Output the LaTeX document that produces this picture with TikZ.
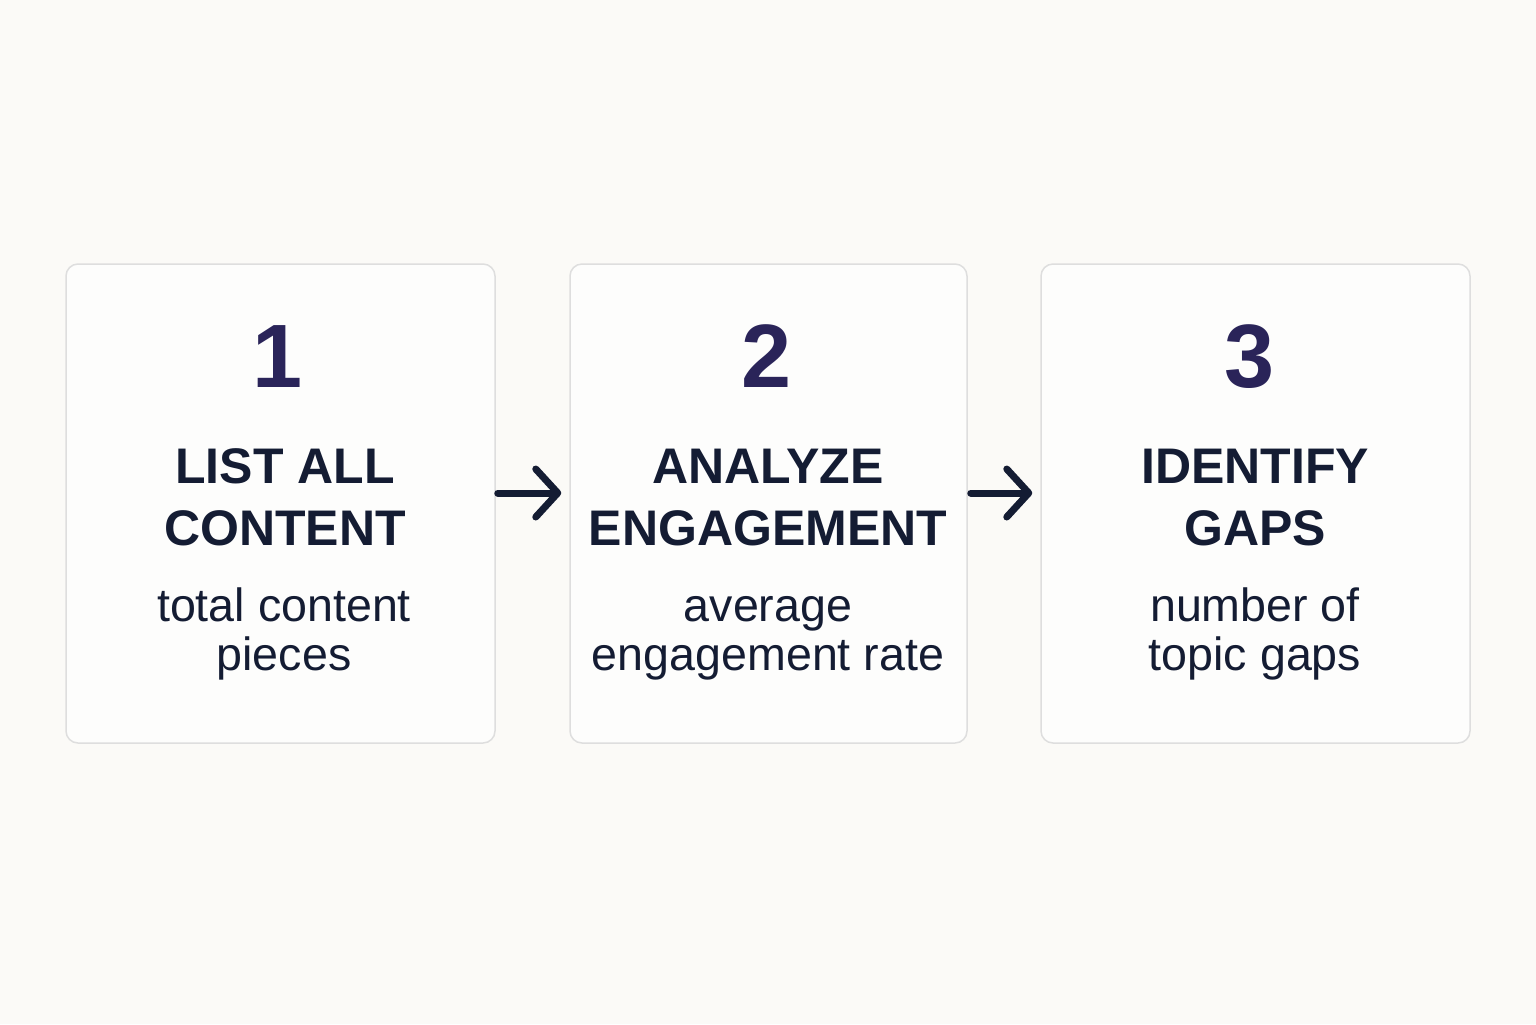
\documentclass[tikz,border=0pt]{standalone}
\usepackage{fontspec}
\setmainfont{Liberation Sans}
\usetikzlibrary{arrows.meta}
\definecolor{bg}{HTML}{FBFAF7}
\definecolor{boxfill}{HTML}{FDFDFC}
\definecolor{boxline}{HTML}{DEDEDE}
\definecolor{numcol}{HTML}{2A2459}
\definecolor{ink}{HTML}{141C33}
\tikzset{
  card/.style={draw=boxline, line width=0.75pt, fill=boxfill, rounded corners=6pt, inner sep=0pt, minimum height=239.5pt},
  numtxt/.style={anchor=base, text=numcol, font=\fontsize{45}{54}\selectfont\bfseries, inner sep=0pt},
  titletxt/.style={anchor=base, text=ink, font=\fontsize{25}{31}\selectfont\bfseries, align=center, inner sep=0pt},
  subtxt/.style={anchor=base, text=ink, font=\fontsize{23.3}{24.5}\selectfont, align=center, inner sep=0pt},
  flow/.style={draw=ink, line width=3.5pt, line cap=round, -{Straight Barb[length=11pt,width=24pt,line cap=round,line join=round]}}
}
\begin{document}
\begin{tikzpicture}[x=0.5pt,y=-0.5pt]
\fill[bg] (0,0) rectangle (1536,1024);
\useasboundingbox (0,0) rectangle (1536,1024);

\node[card, minimum width=214.5pt] (box1) at (280.5,503.5) {};
\node[card, minimum width=198.5pt] (box2) at (768.5,503.5) {};
\node[card, minimum width=214.5pt] (box3) at (1255.5,503.5) {};

\node[numtxt] (num1) at (278,387) {1};
\node[numtxt] (num2) at (767,387) {2};
\node[numtxt] (num3) at (1250,387) {3};

\node[titletxt] (title1) at (285,545) {LIST ALL\\CONTENT};
\node[titletxt] (title2) at (768,545) {ANALYZE\\ENGAGEMENT};
\node[titletxt] (title3) at (1255,545) {IDENTIFY\\GAPS};

\node[subtxt] (sub1) at (284,670) {total content\\pieces};
\node[subtxt] (sub2) at (768,670) {average\\engagement rate};
\node[subtxt] (sub3) at (1255,670) {number of\\topic gaps};

\coordinate (a1s) at ([xshift=1pt]box1.east |- 0,493);
\coordinate (a1e) at ([xshift=-4pt]box2.west |- 0,493);
\coordinate (a2s) at ([xshift=1.5pt]box2.east |- 0,493);
\coordinate (a2e) at ([xshift=-4pt]box3.west |- 0,493);
\draw[flow] (a1s) -- (a1e);
\draw[flow] (a2s) -- (a2e);
\end{tikzpicture}
\end{document}
